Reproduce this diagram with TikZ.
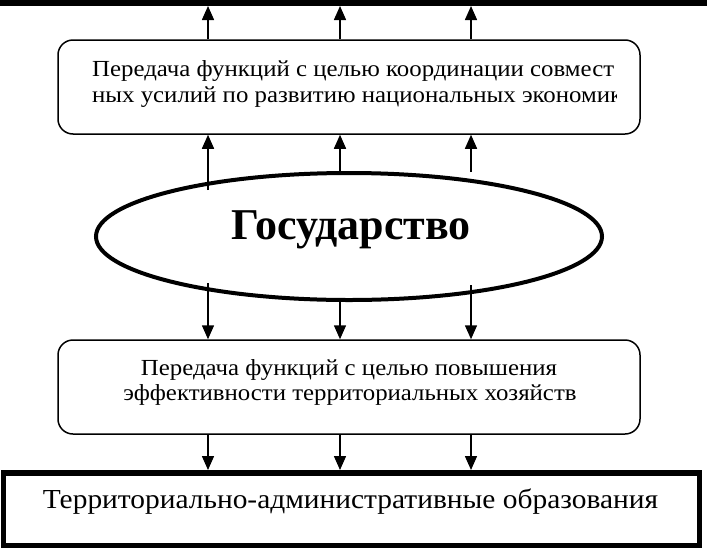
\documentclass[tikz,border=0pt]{standalone}
\usepackage{fontspec}
\setmainfont{Liberation Serif}
\newfontfamily\widefont[FakeStretch=1.08]{Liberation Serif}
\newfontfamily\terrfont[FakeStretch=1.07]{Liberation Serif}
\usetikzlibrary{arrows.meta,shapes.geometric}
\begin{document}
\begin{tikzpicture}[x=1pt,y=-1pt,
  conn/.style={line width=1.5pt,-{Triangle[length=14pt,width=12pt]}},
  rbox/.style={draw,line width=1.5pt,rounded corners=15pt,minimum width=582pt,minimum height=94pt,inner sep=0pt},
  smalltext/.style={font=\widefont\fontsize{23}{23}\selectfont,inner sep=0pt},
]
\useasboundingbox (0,0) rectangle (708,549);
% column positions
\coordinate (c1) at (208,0);
\coordinate (c2) at (340,0);
\coordinate (c3) at (471,0);
% top bar
\coordinate (barL) at (0,3);
\coordinate (barR) at (707,3);
\draw[line width=6pt] (barL) -- (barR);
\coordinate (bar1) at (208,6);
\coordinate (bar2) at (340,6);
\coordinate (bar3) at (471,6);
% top box
\node[rbox] (top) at (349,87) {};
\begin{scope}
\clip (58,40) rectangle (616,134);
\node[smalltext,anchor=base west] (toptext1) at (92,76) {Передача функций с целью координации совмест};
\node[smalltext,anchor=base west] (toptext2) at (92,102) {ных усилий по развитию национальных экономик};
\end{scope}
% ellipse
\node[draw,ellipse,line width=4pt,minimum width=506pt,minimum height=127pt,inner sep=0pt] (state) at (349,236.5) {};
\node[font=\bfseries\fontsize{44}{44}\selectfont,anchor=base,inner sep=0pt] (statetext) at (351,239) {Государство};
% lower box
\node[rbox] (low) at (349,387) {};
\node[smalltext,anchor=base] (lowtext1) at (349,375) {Передача функций с целью повышения};
\node[smalltext,anchor=base] (lowtext2) at (350,400) {эффективности территориальных хозяйств};
% bottom rectangle
\node[draw,line width=5.5pt,minimum width=696pt,minimum height=72.5pt,inner sep=0pt] (terr) at (351.5,509) {};
\node[font=\terrfont\fontsize{27.5}{27.5}\selectfont,anchor=base,inner sep=0pt] (terrtext) at (350.5,508) {Территориально-административные образования};
% arrows top box -> bar
\draw[conn] (c1 |- top.north) -- (bar1);
\draw[conn] (c2 |- top.north) -- (bar2);
\draw[conn] (c3 |- top.north) -- (bar3);
% arrows ellipse -> top box
\coordinate (s1) at (208,190);
\coordinate (s2) at (340,172);
\coordinate (s3) at (471,172);
\draw[conn] (s1) -- (s1 |- top.south);
\draw[conn] (s2) -- (s2 |- top.south);
\draw[conn] (s3) -- (s3 |- top.south);
% arrows ellipse -> lower box
\coordinate (d1) at (208,283);
\coordinate (d2) at (340,301);
\coordinate (d3) at (471,285);
\draw[conn] (d1) -- (d1 |- low.north);
\draw[conn] (d2) -- (d2 |- low.north);
\draw[conn] (d3) -- (d3 |- low.north);
% arrows lower box -> bottom rectangle
\draw[conn] (c1 |- low.south) -- (c1 |- terr.north);
\draw[conn] (c2 |- low.south) -- (c2 |- terr.north);
\draw[conn] (c3 |- low.south) -- (c3 |- terr.north);
\end{tikzpicture}
\end{document}
